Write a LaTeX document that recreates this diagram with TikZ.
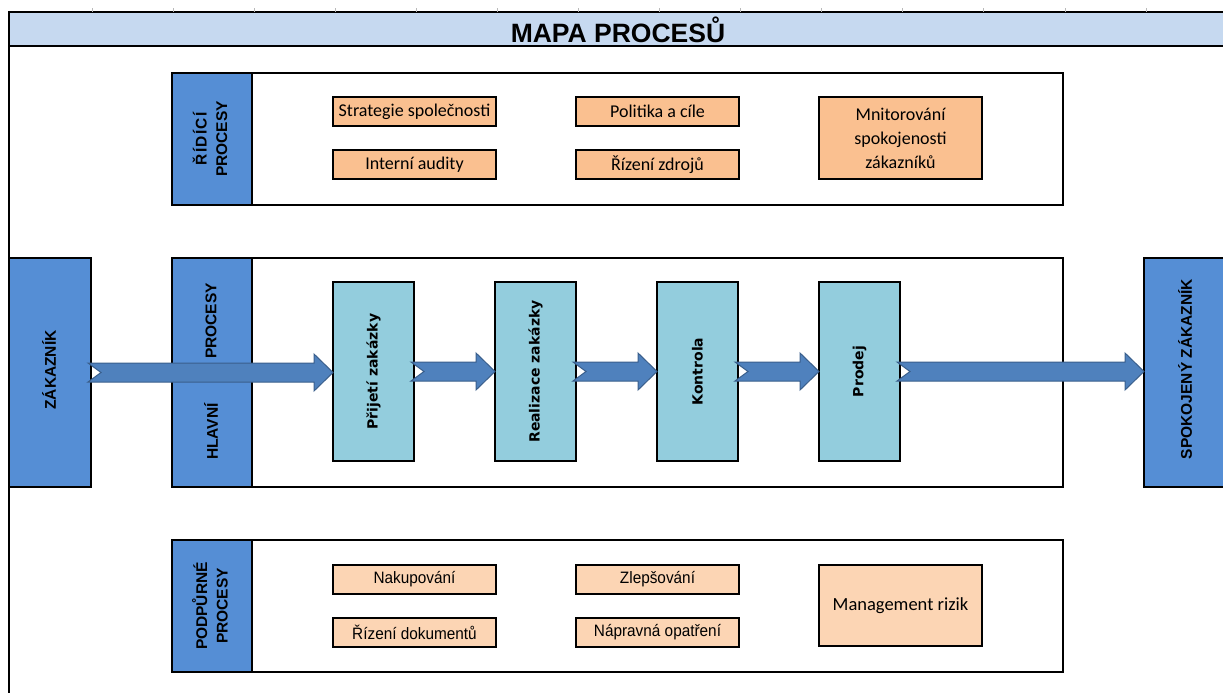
\documentclass[tikz,border=0pt]{standalone}
\usepackage{fontspec}
\setmainfont{Liberation Sans}
\newfontfamily\carl{Carlito}
\newfontfamily\dvs{DejaVu Sans}
\newfontfamily\narr[FakeStretch=0.93]{Liberation Sans}
\usetikzlibrary{calc}
\definecolor{hdrblue}{HTML}{C6D9F0}
\definecolor{colblue}{HTML}{558ED5}
\definecolor{tealc}{HTML}{93CDDD}
\definecolor{orangeA}{HTML}{FAC090}
\definecolor{orangeB}{HTML}{FCD5B4}
\definecolor{arrblue}{HTML}{4F81BD}
\definecolor{arrdark}{HTML}{3A5F8C}
\newcommand{\flowarrow}[2]{%
  \path[barrow] let \p1=(#1.east), \p2=(#2.west) in
    (\x1-3pt,\y1+9.5pt) -- (\x2-19pt,\y1+9.5pt) -- (\x2-19pt,\y1+18.5pt) --
    (\x2,\y1) -- (\x2-19pt,\y1-18.5pt) -- (\x2-19pt,\y1-9.5pt) --
    (\x1-3pt,\y1-9.5pt) -- (\x1+10pt,\y1) -- cycle;}
\begin{document}
\begin{tikzpicture}[x=1pt,y=-1pt,
  panel/.style={draw=black, line width=2.2pt, fill=white, inner sep=0pt, outer sep=0pt},
  lblcol/.style={draw=black, line width=2.2pt, fill=colblue, inner sep=0pt, outer sep=0pt},
  vtext/.style={rotate=90, align=center, inner sep=0pt, font=\bfseries\fontsize{15.5}{20.5}\selectfont},
  obox/.style={draw=black, line width=2pt, fill=orangeA, inner sep=0pt, outer sep=0pt, align=center,
    minimum width=163pt, minimum height=29pt, font=\carl\fontsize{18}{24}\selectfont},
  pbox/.style={draw=black, line width=2pt, fill=orangeB, inner sep=0pt, outer sep=0pt, align=center,
    minimum width=163pt, minimum height=29pt, font=\narr\fontsize{16.5}{20}\selectfont},
  tbox/.style={draw=black, line width=2pt, fill=tealc, inner sep=0pt, outer sep=0pt,
    minimum width=81pt, minimum height=179pt},
  ttext/.style={rotate=90, inner sep=0pt, font=\dvs\bfseries\fontsize{14}{16}\selectfont},
  barrow/.style={fill=arrblue, draw=arrdark, line width=1pt, line join=miter},
  tick/.style={draw=gray!55, line width=0.8pt}
]
\useasboundingbox (0,0) rectangle (1223,693);
\begin{scope}
\clip (0,0) rectangle (1223,693);
% header
\node[fill=hdrblue, inner sep=0pt, outer sep=0pt, minimum width=1214pt, minimum height=34pt] (head) at (616,29) {};
\draw[line width=2.5pt] (8,12) -- (1226,12);
\draw[line width=2.5pt] (8,46) -- (1226,46);
\foreach \i in {0,...,13} \draw[tick] ({92+81.08*\i},8.5) -- ++(0,3.5);
\node[font=\bfseries\fontsize{26.5}{30}\selectfont, inner sep=0pt] (title) at (618,30) {MAPA PROCESŮ};
\draw[line width=2.2pt] (9,11) -- (9,693);

% top panel
\node[panel, minimum width=891pt, minimum height=132pt] (toppanel) at (617.5,139) {};
\node[lblcol, minimum width=80pt, minimum height=132pt] (topcol) at (212,139) {};
\node[vtext] (toplbl) at (210,139) {{\addfontfeature{LetterSpace=8}ŘÍDÍCÍ}\\PROCESY};
\node[obox] (s1) at (414.5,111.5) {Strategie společnosti};
\node[obox] (s2) at (657.5,111.5) {Politika a cíle};
\node[obox] (s3) at (414.5,164.5) {Interní audity};
\node[obox] (s4) at (657.5,164.5) {Řízení zdrojů};
\node[obox, minimum height=82pt] (s5) at (900.5,138) {Mnitorování\\spokojenosti\\zákazníků};

% middle
\node[lblcol, minimum width=82pt, minimum height=229pt] (zak) at (50,372.5) {};
\node[vtext] (zaklbl) at (49,370) {ZÁKAZNÍK};
\node[lblcol, minimum width=82pt, minimum height=229pt] (spok) at (1185,372.5) {};
\node[vtext] (spoklbl) at (1185,369) {SPOKOJENÝ ZÁKAZNÍK};
\node[panel, minimum width=891pt, minimum height=229pt] (midpanel) at (617.5,372.5) {};
\node[lblcol, minimum width=80pt, minimum height=229pt] (midcol) at (212,372.5) {};
\node[vtext] (hlavni) at (211,431.5) {HLAVNÍ};
\node[vtext] (procesy) at (211,321) {PROCESY};
\node[tbox] (p1) at (373.5,371.5) {};
\node[ttext] at (p1) {Přijetí zakázky};
\node[tbox] (p2) at (535.5,371.5) {};
\node[ttext] at (p2) {Realizace zakázky};
\node[tbox] (p3) at (697.5,371.5) {};
\node[ttext] at (p3) {Kontrola};
\node[tbox] (p4) at (859.5,371.5) {};
\node[ttext] at (p4) {Prodej};

% bottom panel
\node[panel, minimum width=891pt, minimum height=132pt] (botpanel) at (617.5,606) {};
\node[lblcol, minimum width=80pt, minimum height=132pt] (botcol) at (212,606) {};
\node[vtext] (botlbl) at (210,606) {PODPŮRNÉ\\PROCESY};
\node[pbox] (b1) at (414.5,579) {Nakupování};
\node[pbox] (b2) at (657.5,579) {Zlepšování};
\node[pbox] (b3) at (414.5,632) {Řízení dokumentů};
\node[pbox] (b4) at (657.5,632) {Nápravná opatření};
\node[pbox, minimum height=81pt, font=\carl\fontsize{18.5}{24}\selectfont] (b5) at (900.5,605.5) {Management rizik};

% arrows
\flowarrow{zak}{p1}
\flowarrow{p1}{p2}
\flowarrow{p2}{p3}
\flowarrow{p3}{p4}
\flowarrow{p4}{spok}
\end{scope}
\end{tikzpicture}
\end{document}
